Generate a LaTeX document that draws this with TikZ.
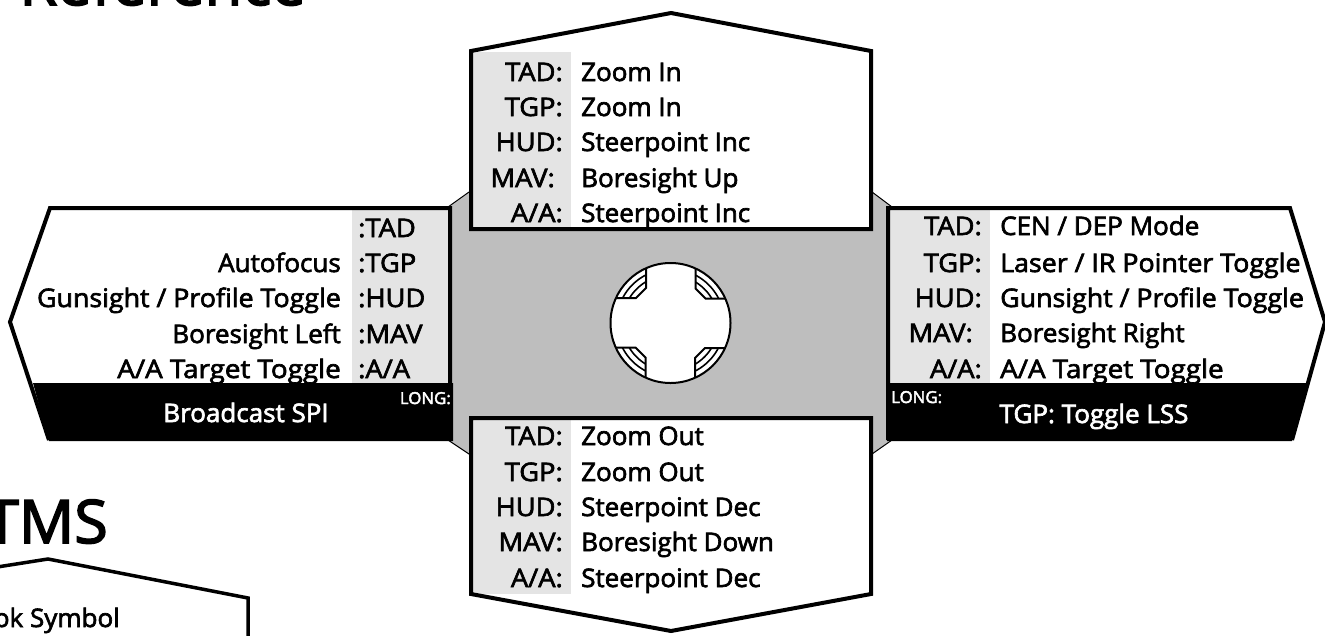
\documentclass[tikz,border=0pt]{standalone}
\usepackage{fontspec}
\setmainfont[FakeBold=2.6,FakeStretch=1.02]{Open Sans}
\newfontfamily\keyfont[FakeBold=2.6,FakeStretch=1.07]{Open Sans}
\newfontfamily\wideA[FakeBold=2.6,FakeStretch=1.05]{Open Sans}
\newfontfamily\wideB[FakeBold=2.6,FakeStretch=1.09]{Open Sans}
\definecolor{midgrey}{HTML}{BEBEBE}
\definecolor{labelgrey}{HTML}{E4E4E4}
\tikzset{
  panel/.style={draw=black,line width=4pt,line join=miter,miter limit=10},
  rowtext/.style={inner sep=0pt,font=\fontsize{25.5}{25.5}\selectfont},
  lab/.style={rowtext,anchor=base east},
  val/.style={rowtext,anchor=base west},
  keylab/.style={inner sep=0pt,anchor=base east,font=\fontsize{25.5}{25.5}\selectfont\keyfont},
  keyval/.style={inner sep=0pt,anchor=base west,font=\fontsize{25.5}{25.5}\selectfont\keyfont},
  longlab/.style={inner sep=0pt,text=white,font=\fontsize{16.5}{16.5}\selectfont},
  bandtext/.style={inner sep=0pt,text=white,anchor=base,font=\fontsize{25.5}{25.5}\selectfont},
  heading/.style={inner sep=0pt,font=\fontsize{60}{60}\selectfont,anchor=base east},
  thinline/.style={draw=black,line width=2pt}
}
\begin{document}
\begin{tikzpicture}[x=1pt,y=-1pt]
\useasboundingbox (0,0) rectangle (1325,635);
\clip (0,0) rectangle (1325,635);
% headings
\node[heading] (refhead) at (306,5) {Reference};
\node[heading] (tmshead) at (108,543) {TMS};
% partial panel
\draw[panel,line width=3.5pt] (-60,576) -- (48,559) -- (248,598) -- (248,640);
\node[lab] (hooksym) at (120,627) {ok Symbol};
% centre grey body
\filldraw[fill=midgrey,draw=black,line width=1pt]
  (448,207) -- (469,192) -- (872,192) -- (892,207) -- (892,440) -- (872,454) -- (469,454) -- (448,440) -- cycle;
% top panel
\fill[white] (471,51) -- (671,13) -- (871,51) -- (871,229) -- (471,229) -- cycle;
\fill[labelgrey] (471,52) rectangle (571,229);
% bottom panel
\fill[white] (471,418) -- (871,418) -- (871,594) -- (671,631) -- (471,594) -- cycle;
\fill[labelgrey] (471,418) rectangle (571,594);
% left panel
\fill[white] (50,208) -- (450,208) -- (450,440) -- (49,440) -- (10,322) -- cycle;
\fill[labelgrey] (352,208) rectangle (450,383);
\fill[black] (33,383) -- (453,383) -- (453,441) -- (49,441) -- cycle;
% right panel
\fill[white] (888,208) -- (1290,208) -- (1325,322) -- (1292,440) -- (888,440) -- cycle;
\fill[labelgrey] (888,208) rectangle (990,383);
\fill[black] (887,383) -- (1308,383) -- (1292,441) -- (887,441) -- cycle;
% outlines
\draw[panel] (471,229) -- (471,51) -- (671,13) -- (871,51) -- (871,229) -- cycle;
\draw[panel] (471,418) -- (471,594) -- (671,631) -- (871,594) -- (871,418) -- cycle;
\draw[panel] (450,440) -- (450,208) -- (50,208) -- (10,322) -- (49,440);
\draw[panel] (888,440) -- (888,208) -- (1290,208) -- (1325,322) -- (1292,440);
% hat switch
\fill[white] (670.5,323) circle (60);
\begin{scope}
  \clip (670.5,323) circle (60);
  \foreach \r in {0,90,180,270}{
    \begin{scope}[shift={(670.5,323)},rotate=\r]
      \draw[thinline] (-24.5,-65) -- (-24.5,-35) -- (-34.5,-25) -- (-65,-25);
      \draw[line width=1.6pt] plot[domain=207.6:243,samples=12] ({54*cos(\x)},{54*sin(\x)});
      \draw[line width=1.6pt] plot[domain=211.4:239.3,samples=12] ({48*cos(\x)},{48*sin(\x)});
    \end{scope}
  }
\end{scope}
\draw[line width=2pt] (670.5,323) circle (60);
% top rows
\foreach \n/\y/\a/\b/\kx in {tad/81/{TAD:}/{Zoom In}/563,tgp/116/{TGP:}/{Zoom In}/563,hud/151/{HUD:}/{Steerpoint Inc}/563,mav/187/{MAV:}/{Boresight Up}/555,aa/222/{A/A:}/{Steerpoint Inc}/563}{
  \node[keylab] (top\n k) at (\kx,\y) {\a};
  \node[val] (top\n v) at (581,\y) {\b};
}
% bottom rows
\foreach \n/\y/\a/\b in {tad/445/{TAD:}/{Zoom Out},tgp/481/{TGP:}/{Zoom Out},hud/516/{HUD:}/{Steerpoint Dec},mav/551/{MAV:}/{Boresight Down},aa/587/{A/A:}/{Steerpoint Dec}}{
  \node[keylab] (bot\n k) at (563,\y) {\a};
  \node[val] (bot\n v) at (581,\y) {\b};
}
% right rows
\foreach \n/\y/\a/\b/\kx in {tad/235/{TAD:}/{CEN / DEP Mode}/982,tgp/272/{TGP:}/{\wideA Laser / IR Pointer Toggle}/982,hud/307/{HUD:}/{\wideA Gunsight / Profile Toggle}/982,mav/342/{MAV:}/{Boresight Right}/973,aa/378/{A/A:}/{\wideB A/A Target Toggle}/982}{
  \node[keylab] (right\n k) at (\kx,\y) {\a};
  \node[val] (right\n v) at (1000,\y) {\b};
}
% left rows
\node[keyval] (lefttadk) at (358,237) {:TAD};
\foreach \n/\y/\a/\b in {tgp/272/{:TGP}/{Autofocus},hud/307/{:HUD}/{\wideA Gunsight / Profile Toggle},mav/343/{:MAV}/{Boresight Left},aa/378/{:A/A}/{\wideB A/A Target Toggle}}{
  \node[keyval] (left\n k) at (358,\y) {\a};
  \node[lab] (left\n v) at (341,\y) {\b};
}
% band text
\node[bandtext] (leftband) at (246,422) {Broadcast SPI};
\node[bandtext] (rightband) at (1094,423) {TGP: Toggle LSS};
\node[longlab,anchor=base east] (leftlong) at (451,404) {LONG:};
\node[longlab,anchor=base west] (rightlong) at (891,403) {LONG:};
\end{tikzpicture}
\end{document}
